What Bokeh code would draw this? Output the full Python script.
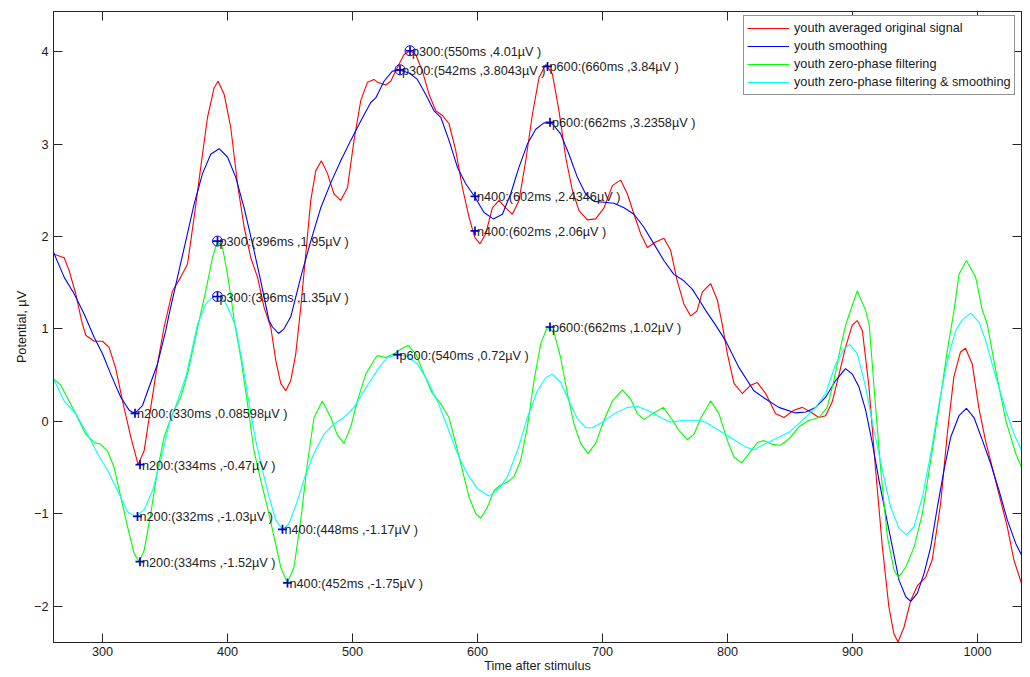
from bokeh.plotting import figure
from bokeh.models import Range1d, LinearAxis, Legend, LegendItem, FixedTicker, ColumnDataSource
from bokeh.embed import file_html
from bokeh.resources import INLINE
from bokeh.core.properties import value

# ---------------- data (time in ms, potential in µV) ----------------
red_pts = [(260.8,1.81),(269.3,1.77),(273.3,1.63),(278.6,1.38),(283.2,1.09),(286.6,0.93),(293.3,0.866),(300,0.866),
           (305.3,0.80),(310.6,0.57),(316,0.22),(322.6,-0.17),(328.5,-0.47),(333.3,-0.32),(338.6,0.15),(344,0.62),
           (349.3,1.02),(356,1.41),(362.6,1.56),(368,1.70),(373.3,2.21),(378.6,2.75),(384,3.29),(389.3,3.61),
           (392.5,3.68),(397.3,3.54),(402.6,3.18),(408,2.57),(413.3,2.10),(418.6,1.77),(424,1.56),(429.3,1.23),
           (434.6,1.02),(438.6,0.66),(442.6,0.41),(446.6,0.33),(450.6,0.44),(454.6,0.73),(458.6,1.23),(462.6,1.81),
           (466.6,2.39),(470.6,2.71),(475.1,2.82),(480,2.68),(485.2,2.46),(490.6,2.39),(496,2.53),(501.2,3.04),
           (506.6,3.47),(512,3.67),(517.2,3.70),(520,3.67),(526.6,3.64),(530.6,3.68),(535.9,3.83),(541.2,3.97),
           (546,4.01),(550.6,3.97),(555.9,3.79),(561.2,3.54),(566.6,3.36),(571.9,3.31),(577.2,3.22),(582.6,2.93),
           (587.9,2.53),(593.2,2.21),(597.8,1.99),(602,1.92),(606.6,2.03),(611.9,2.31),(617.2,2.39),(622.5,2.31),
           (627.9,2.24),(633.2,2.39),(638.6,2.82),(643.9,3.32),(649.2,3.72),(654.6,3.86),(659.9,3.76),(665.2,3.36),
           (670.5,2.86),(675.9,2.50),(681.2,2.28),(687.9,2.18),(694.5,2.19),(701.2,2.31),(707.9,2.55),(714.5,2.61),
           (719.9,2.46),(725.2,2.24),(730.5,2.03),(735.9,1.88),(742.5,1.94),(749.1,1.98),(754.5,1.85),(759.8,1.52),
           (765.1,1.27),(770.5,1.14),(775.5,1.19),(779.9,1.40),(786.5,1.49),(791.9,1.31),(795.9,1.04),(799.9,0.73),
           (805.2,0.41),(811.8,0.30),(818.5,0.39),(823.8,0.42),(830.5,0.30),(838.5,0.08),(845.2,0.04),(853.1,0.12),
           (859.8,0.15),(866.5,0.10),(873.1,0.04),(878.5,0.06),(883.8,0.21),(889.1,0.50),(894.4,0.80),(899.8,1.04),
           (903.8,1.09),(907.9,0.98),(913.2,0.37),(918.5,-0.53),(923.9,-1.36),(929.1,-2.01),(933.1,-2.30),(936.4,-2.39),
           (941.2,-2.23),(946.6,-1.94),(951.9,-1.78),(958.5,-1.69),(963.8,-1.50),(970.5,-0.89),(975.8,-0.14),(981.1,0.48),
           (986.4,0.75),(990.4,0.79),(995.8,0.62),(1001,0.15),(1006.4,-0.21),(1011.8,-0.50),(1017,-0.78),(1023.8,-1.14),
           (1029.1,-1.50),(1035.3,-1.76)]

blue_pts = [(260.8,1.83),(269.3,1.56),(277.3,1.38),(285.3,1.16),(293.3,0.91),(300,0.73),(306.6,0.51),(314.6,0.26),
            (321.3,0.12),(325.8,0.086),(332,0.17),(337.3,0.37),(344,0.62),(350.6,0.98),(353.3,1.16),(360,1.56),
            (366.6,1.95),(373.3,2.35),(380,2.68),(386.6,2.89),(393.3,2.95),(400,2.86),(406.6,2.64),(413.3,2.31),
            (420,1.92),(426.6,1.52),(433.2,1.09),(436,1.02),(440.8,0.95),(445.2,1.00),(450.6,1.13),(458.6,1.56),
            (466.6,1.95),(474.6,2.31),(482.6,2.58),(490.6,2.82),(498.6,3.04),(506.6,3.25),(514.6,3.45),(518.6,3.50),
            (525.2,3.68),(531.9,3.79),(538,3.80),(545.2,3.77),(551.9,3.70),(558.5,3.54),(565.2,3.36),(570.6,3.29),
            (577.2,3.04),(583.9,2.75),(590.6,2.57),(597.8,2.43),(605.2,2.26),(612.7,2.19),(619.9,2.24),(626.5,2.46),
            (633.2,2.75),(639.9,3.00),(646.6,3.16),(653.2,3.23),(659.9,3.22),(666.5,3.11),(673.2,2.89),(679.9,2.64),
            (686.5,2.46),(693.2,2.38),(701.2,2.37),(709.2,2.36),(717.2,2.31),(725.2,2.24),(733.1,2.10),(741.1,1.92),
            (749.1,1.74),(757.1,1.59),(765.1,1.52),(771.8,1.43),(778.4,1.29),(782.5,1.20),(790.5,1.04),(798.5,0.87),
            (809.2,0.58),(821.1,0.33),(830.5,0.24),(841.1,0.15),(854.5,0.09),(862.5,0.10),(870.5,0.15),(878.5,0.26),
            (886.5,0.44),(894.4,0.57),(899.8,0.51),(905.2,0.37),(910.5,0.12),(915.9,-0.24),(921.2,-0.64),(926.5,-1.00),
            (931.9,-1.36),(937.2,-1.72),(942.6,-1.90),(946.6,-1.95),(951.9,-1.86),(957.2,-1.65),(962.6,-1.36),
            (967.9,-0.93),(973.2,-0.53),(978.6,-0.17),(985.2,0.06),(991.1,0.14),(997.2,0.04),(1004,-0.21),
            (1010.6,-0.46),(1017.2,-0.75),(1023.9,-1.07),(1030.5,-1.32),(1035.3,-1.45)]

green_pts = [(260.8,0.46),(266.6,0.39),(273.3,0.22),(280,0.04),(286.6,-0.14),(293.3,-0.23),(298.6,-0.25),(304,-0.32),
             (309.3,-0.50),(314.6,-0.82),(320,-1.14),(325.3,-1.43),(329.3,-1.52),(333.3,-1.40),(338.6,-1.00),(344,-0.53),
             (349.3,-0.17),(356,0.08),(362.6,0.26),(368,0.51),(373.3,0.84),(377.3,1.09),(382.6,1.41),(388,1.77),
             (392,1.95),(396,1.88),(400,1.59),(404,1.23),(405.3,1.09),(410.6,0.69),(416,0.19),(421.2,-0.32),
             (426.6,-0.64),(431.9,-0.93),(437.2,-1.25),(442.6,-1.58),(447.9,-1.75),(453.2,-1.58),(458.6,-1.07),
             (463.9,-0.46),(469.2,0.04),(475.9,0.22),(482.6,0.04),(487.9,-0.15),(493.2,-0.24),(498.6,-0.06),(503.9,0.22),
             (510.6,0.51),(517.2,0.66),(520,0.71),(526.6,0.69),(533.2,0.73),(539.9,0.79),(544.4,0.82),(550.6,0.73),
             (557.2,0.51),(563.9,0.30),(570.6,0.19),(577.2,0.04),(582.6,-0.24),(587.9,-0.53),(593.2,-0.82),(598.6,-1.00),
             (602.6,-1.05),(607.9,-0.93),(613.2,-0.75),(618.5,-0.69),(623.9,-0.66),(629.2,-0.60),(634.6,-0.42),
             (639.9,-0.06),(645.2,0.44),(650.6,0.84),(655.9,1.02),(661.2,0.96),(666.5,0.69),(671.9,0.30),(677.2,-0.03),
             (682.5,-0.24),(688.4,-0.35),(694.5,-0.24),(701.2,0.01),(707.9,0.22),(715.9,0.34),(722.5,0.24),(727.9,0.08),
             (733.2,0.02),(739.9,0.08),(748.7,0.15),(754.5,0.04),(761.2,-0.10),(767.9,-0.20),(773.2,-0.14),(778.5,0.03),
             (786.5,0.22),(793.2,0.08),(799.9,-0.21),(805.2,-0.39),(811.4,-0.45),(817.2,-0.35),(823.9,-0.23),
             (829.2,-0.21),(835.9,-0.25),(842.5,-0.26),(849.2,-0.19),(857.2,-0.06),(865.2,0.01),(873.1,0.04),
             (879.8,0.15),(885.1,0.44),(890.5,0.80),(894.5,1.04),(897.2,1.15),(903.8,1.41),(910.5,1.20),(913.4,1.04),
             (917.2,0.37),(922.6,-0.53),(927.9,-1.25),(933.2,-1.61),(936.7,-1.69),(942.6,-1.58),(949.3,-1.36),
             (955.9,-1.00),(962.6,-0.42),(969.2,0.15),(975.9,0.77),(979.9,1.09),(981.2,1.20),(985.2,1.59),(991.1,1.74),
             (998.5,1.56),(1003.9,1.20),(1007.8,1.05),(1014.6,0.55),(1022.6,0.01),(1030.6,-0.35),(1035.3,-0.50)]

cyan_pts = [(260.8,0.46),(269.3,0.22),(278.6,0.08),(288,-0.14),(296,-0.35),(304,-0.53),(312,-0.75),(320,-0.98),
            (326.6,-1.03),(333.3,-0.96),(340,-0.75),(346.6,-0.42),(353.3,-0.03),(360,0.22),(366.6,0.48),(372,0.80),
            (376,1.05),(382.6,1.27),(388,1.34),(392,1.35),(397.3,1.31),(402.6,1.16),(406.6,1.02),(412,0.62),
            (417.3,0.19),(422.6,-0.21),(428,-0.53),(433.3,-0.82),(438.6,-1.07),(444,-1.17),(449.2,-1.11),(456,-0.86),
            (462.6,-0.57),(469.2,-0.35),(477.2,-0.14),(485.2,-0.03),(493.2,0.04),(501.2,0.15),(509.2,0.33),
            (515.5,0.46),(521.2,0.58),(527.9,0.69),(535.9,0.72),(543.9,0.70),(551.9,0.62),(559.9,0.44),(567.9,0.22),
            (575.9,-0.06),(583.9,-0.35),(591.9,-0.57),(599.9,-0.73),(609.2,-0.81),(617.2,-0.73),(623.9,-0.60),
            (631.9,-0.32),(639.9,0.04),(647.9,0.33),(654.6,0.47),(659.9,0.51),(666.5,0.42),(673.2,0.22),(679.9,0.03),
            (686.5,-0.07),(691.9,-0.07),(699.9,-0.01),(709.2,0.08),(719.9,0.15),(727.9,0.16),(735.9,0.12),(746.5,0.04),
            (754.5,-0.01),(765.1,0.01),(777.1,0.01),(782.5,-0.01),(793.2,-0.10),(803.9,-0.19),(814.5,-0.28),
            (821.1,-0.31),(827.8,-0.26),(838.5,-0.19),(849.2,-0.12),(859.8,0.01),(870.5,0.15),(878.5,0.30),
            (886.5,0.62),(893.2,0.78),(897.8,0.83),(903.9,0.73),(910.5,0.37),(917.2,-0.10),(923.9,-0.53),(930.5,-0.93),
            (937.2,-1.16),(943.1,-1.23),(949.2,-1.14),(955.9,-0.82),(962.6,-0.35),(969.2,0.19),(975.9,0.66),
            (982.5,0.98),(987.9,1.10),(994.6,1.17),(1001.3,1.07),(1006.6,0.87),(1014.6,0.48),(1022.6,0.12),
            (1029.2,-0.14),(1035.3,-0.32)]

series_names = ["youth averaged original signal", "youth smoothing",
                "youth zero-phase filtering", "youth zero-phase filtering & smoothing"]
series_colors = ["#FF0000", "#0000FF", "#00FF00", "#00FFFF"]

# peak annotations: plotted position, value and label
peak_x = [326, 330, 328, 330, 444, 448, 392, 392, 546, 538, 656, 658, 598, 598, 536, 658]
peak_y = [0.08598, -0.47, -1.03, -1.52, -1.17, -1.75, 1.95, 1.35, 4.01, 3.8043, 3.84, 3.2358, 2.4346, 2.06, 0.72, 1.02]
peak_labels = ["n200:(330ms ,0.08598µV )", "n200:(334ms ,-0.47µV )", "n200:(332ms ,-1.03µV )",
               "n200:(334ms ,-1.52µV )", "n400:(448ms ,-1.17µV )", "n400:(452ms ,-1.75µV )",
               "p300:(396ms ,1.95µV )", "p300:(396ms ,1.35µV )", "p300:(550ms ,4.01µV )",
               "p300:(542ms ,3.8043µV )", "p600:(660ms ,3.84µV )", "p600:(662ms ,3.2358µV )",
               "n400:(602ms ,2.4346µV )", "n400:(602ms ,2.06µV )", "p600:(540ms ,0.72µV )",
               "p600:(662ms ,1.02µV )"]
peak_circled = [False, False, False, False, False, False, True, True, True, True,
                False, False, False, False, False, False]

x_ticks = [300, 400, 500, 600, 700, 800, 900, 1000]
y_ticks = [-2, -1, 0, 1, 2, 3, 4]

# ---------------- figure ----------------
FONT = "Liberation Sans"
FS = "12.7px"
AX = "#262626"

p = figure(width=1030, height=677, output_backend="svg", toolbar_location=None,
           x_range=Range1d(260.8, 1035.2), y_range=Range1d(-2.395, 4.435),
           min_border_left=53, min_border_right=9, min_border_top=11, min_border_bottom=35)
p.background_fill_color = "white"
p.border_fill_color = "white"
p.grid.visible = False
p.outline_line_color = AX
p.outline_line_width = 1

def style_axis(ax, ticks, show_labels=True):
    ax.ticker = FixedTicker(ticks=ticks)
    ax.major_tick_in = 9
    ax.major_tick_out = 0
    ax.minor_tick_in = 0
    ax.minor_tick_out = 0
    ax.axis_line_color = AX
    ax.major_tick_line_color = AX
    ax.major_label_text_font = FONT
    ax.axis_label_text_font = FONT
    ax.axis_label_text_font_size = FS
    ax.axis_label_text_font_style = "normal"
    ax.axis_label_text_color = "#1a1a1a"
    if show_labels:
        ax.major_label_text_font_size = FS
        ax.major_label_text_color = "#1a1a1a"
        ax.major_label_standoff = 5
    else:
        ax.major_label_text_font_size = "1px"
        ax.major_label_text_color = None
        ax.major_label_standoff = 0

style_axis(p.xaxis[0], x_ticks)
style_axis(p.yaxis[0], y_ticks)
p.xaxis[0].axis_label = "Time after stimulus"
p.xaxis[0].axis_label_standoff = 0
p.xaxis[0].major_label_standoff = 4
p.yaxis[0].axis_label = "Potential, µV"
p.yaxis[0].axis_label_standoff = 2
p.yaxis[0].major_label_standoff = 5

top_ax = LinearAxis()
style_axis(top_ax, x_ticks, show_labels=False)
p.add_layout(top_ax, "above")
right_ax = LinearAxis()
style_axis(right_ax, y_ticks, show_labels=False)
p.add_layout(right_ax, "right")

# ---------------- curves ----------------
items = []
for pts, name, col in zip([red_pts, blue_pts, green_pts, cyan_pts], series_names, series_colors):
    xs = [a for a, b in pts]
    ys = [b for a, b in pts]
    r = p.line(xs, ys, line_color=col, line_width=1.1)
    items.append(LegendItem(label=name, renderers=[r]))

# ---------------- peak markers and labels ----------------
cx = [x for x, c in zip(peak_x, peak_circled) if c]
cy = [y for y, c in zip(peak_y, peak_circled) if c]
p.scatter(cx, cy, marker="circle", size=10, fill_color=None, line_color="#0000FF", line_width=1)
p.scatter(peak_x, peak_y, marker="cross", size=9, line_color="#0000CC", line_width=1.7)

src = ColumnDataSource(dict(x=peak_x, y=peak_y, t=peak_labels))
p.text(x="x", y="y", text="t", source=src, text_font=value(FONT), text_font_size=value(FS),
       text_color="#222222", text_align="left", text_baseline="middle", x_offset=2, y_offset=1)

# ---------------- legend ----------------
legend = Legend(items=items, location=(690, 547))
legend.border_line_color = AX
legend.border_line_width = 1
legend.background_fill_color = "white"
legend.background_fill_alpha = 1
legend.label_text_font = FONT
legend.label_text_font_size = FS
legend.label_text_color = "#1a1a1a"
legend.glyph_width = 42
legend.glyph_height = 18
legend.label_height = 18
legend.label_standoff = 5
legend.spacing = 0
legend.padding = 3
legend.margin = 0
p.add_layout(legend)

open("out.html", "w").write(file_html(p, INLINE))
